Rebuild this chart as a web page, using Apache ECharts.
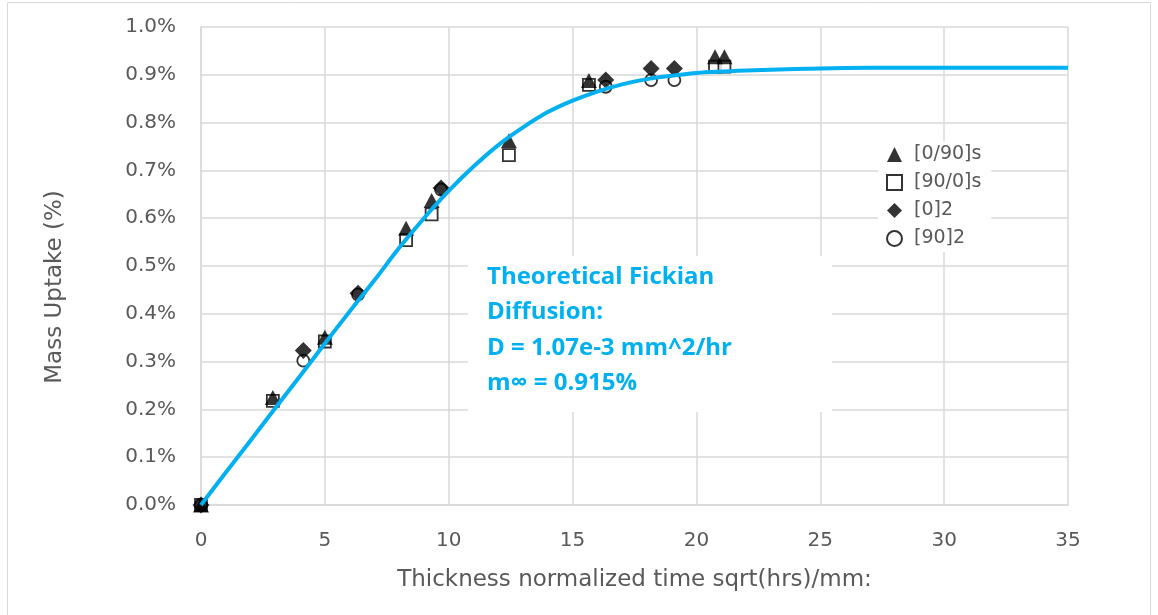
<!DOCTYPE html>
<html>
<head>
    <meta charset="utf-8">
    <title>Mass uptake</title>
    <script src="https://cdn.jsdelivr.net/npm/echarts@6/dist/echarts.min.js"></script>
    <style>
        html, body { margin: 0; padding: 0; background: #fff; }
    </style>
</head>
<body>
<div id="main" style="width: 1158px;height:615px;"></div>

<script type="text/javascript">

    // measured points (x = sqrt(hrs)/mm, y = mass uptake %)
    var tri_x = [0, 2.9, 5.0, 8.28, 9.31, 12.43, 15.66, 20.75, 21.13];
    var tri_y = [0, 0.225, 0.351, 0.579, 0.637, 0.762, 0.888, 0.938, 0.938];

    var sq_x = [0, 2.9, 5.0, 8.28, 9.31, 12.43, 15.66, 20.75, 21.13];
    var sq_y = [0, 0.218, 0.342, 0.554, 0.608, 0.732, 0.879, 0.917, 0.917];

    var dia_x = [0, 4.13, 6.34, 9.69, 16.34, 18.17, 19.11];
    var dia_y = [0, 0.323, 0.443, 0.663, 0.889, 0.913, 0.913];

    var circ_x = [0, 4.13, 6.34, 9.69, 16.34, 18.17, 19.11];
    var circ_y = [0, 0.302, 0.44, 0.66, 0.875, 0.889, 0.889];

    // theoretical curve
    var fick_x = [0, 1, 2, 3, 4, 5, 6, 7, 8, 9, 10, 11, 12, 13, 14, 15, 16, 17, 18, 19, 20, 22, 24, 26, 28, 30, 35];
    var fick_y = [0, 0.068, 0.135, 0.203, 0.27, 0.338, 0.405, 0.47, 0.538, 0.6, 0.657, 0.708, 0.753, 0.79, 0.822, 0.846, 0.865, 0.88, 0.891, 0.898, 0.904, 0.909, 0.912, 0.914, 0.915, 0.915, 0.915];

    var xTicks = [0, 5, 10, 15, 20, 25, 30, 35];

    function pairs(xs, ys) {
        var out = [];
        for (var i = 0; i < xs.length; i++) {
            out.push([xs[i], ys[i]]);
        }
        return out;
    }

    var myChart = echarts.init(document.getElementById('main'));
    var gray = '#595959';
    var gridColor = '#d9d9d9';
    var font = 'DejaVu Sans';

    option = {
        animation: false,
        textStyle: { fontFamily: font },
        grid: {
            left: 201,
            right: 90,
            top: 27,
            bottom: 110
        },
        legend: {
            orient: 'vertical',
            left: 878,
            top: 141,
            itemWidth: 15,
            itemHeight: 15,
            itemGap: 9,
            padding: [4, 10, 4, 8],
            backgroundColor: '#fff',
            textStyle: { color: gray, fontSize: 19, fontFamily: font, padding: [0, 0, 0, 7] },
            data: ['[0/90]s', '[90/0]s', '[0]2', '[90]2']
        },
        xAxis: {
            type: 'value',
            min: xTicks[0],
            max: xTicks[xTicks.length - 1],
            interval: 5,
            name: 'Thickness normalized time sqrt(hrs)/mm:',
            nameLocation: 'middle',
            nameGap: 64,
            nameTextStyle: { color: gray, fontSize: 23, fontFamily: font },
            axisLine: { show: true, lineStyle: { color: gridColor, width: 1.5 } },
            axisTick: { show: false },
            axisLabel: { color: gray, fontSize: 20, margin: 26 },
            splitLine: { show: true, lineStyle: { color: gridColor, width: 1.5 } }
        },
        yAxis: {
            type: 'value',
            min: 0,
            max: 1.0,
            interval: 0.1,
            name: 'Mass Uptake (%)',
            nameLocation: 'middle',
            nameGap: 134,
            nameTextStyle: { color: gray, fontSize: 23, fontFamily: font, padding: [0, 42, 0, 0] },
            axisLine: { show: true, lineStyle: { color: gridColor, width: 1.5 } },
            axisTick: { show: false },
            axisLabel: {
                color: gray,
                fontSize: 20,
                margin: 25,
                formatter: function (v) { return v.toFixed(1) + '%'; }
            },
            splitLine: { show: true, lineStyle: { color: gridColor, width: 1.5 } }
        },
        graphic: [
            {
                type: 'rect',
                silent: true,
                shape: { x: 7.5, y: 2.5, width: 1143, height: 640 },
                style: { fill: 'none', stroke: '#d9d9d9', lineWidth: 1 }
            },
            {
                type: 'rect',
                z: 5,
                silent: true,
                shape: { x: 468, y: 256, width: 364, height: 156 },
                style: { fill: '#fff' }
            },
            {
                type: 'text',
                z: 6,
                left: 487,
                top: 259,
                style: {
                    text: 'Theoretical Fickian\nDiffusion:\nD = 1.07e-3 mm^2/hr\nm\u221e = 0.915%',
                    fill: '#00B0F0',
                    font: 'bold 24px "Open Sans"',
                    lineHeight: 35.5
                }
            }
        ],
        series: [
            {
                name: '[0/90]s',
                type: 'scatter',
                symbol: 'triangle',
                symbolSize: [16, 15],
                itemStyle: { color: '#000' },
                z: 3,
                data: pairs(tri_x, tri_y)
            },
            {
                name: '[90/0]s',
                type: 'scatter',
                symbol: 'rect',
                symbolSize: 12,
                itemStyle: { color: '#fff', borderColor: '#000', borderWidth: 1.8 },
                z: 2,
                data: pairs(sq_x, sq_y)
            },
            {
                name: '[0]2',
                type: 'scatter',
                symbol: 'diamond',
                symbolSize: 17,
                itemStyle: { color: '#000' },
                z: 3,
                data: pairs(dia_x, dia_y)
            },
            {
                name: '[90]2',
                type: 'scatter',
                symbol: 'circle',
                symbolSize: 12,
                itemStyle: { color: '#fff', borderColor: '#000', borderWidth: 1.8 },
                z: 2,
                data: pairs(circ_x, circ_y)
            },
            {
                name: 'Fickian',
                type: 'line',
                showSymbol: false,
                smooth: 0.3,
                z: 4,
                lineStyle: { color: '#00B0F0', width: 4 },
                data: pairs(fick_x, fick_y)
            }
        ]
    };

    myChart.setOption(option);
</script>
</body>
</html>
